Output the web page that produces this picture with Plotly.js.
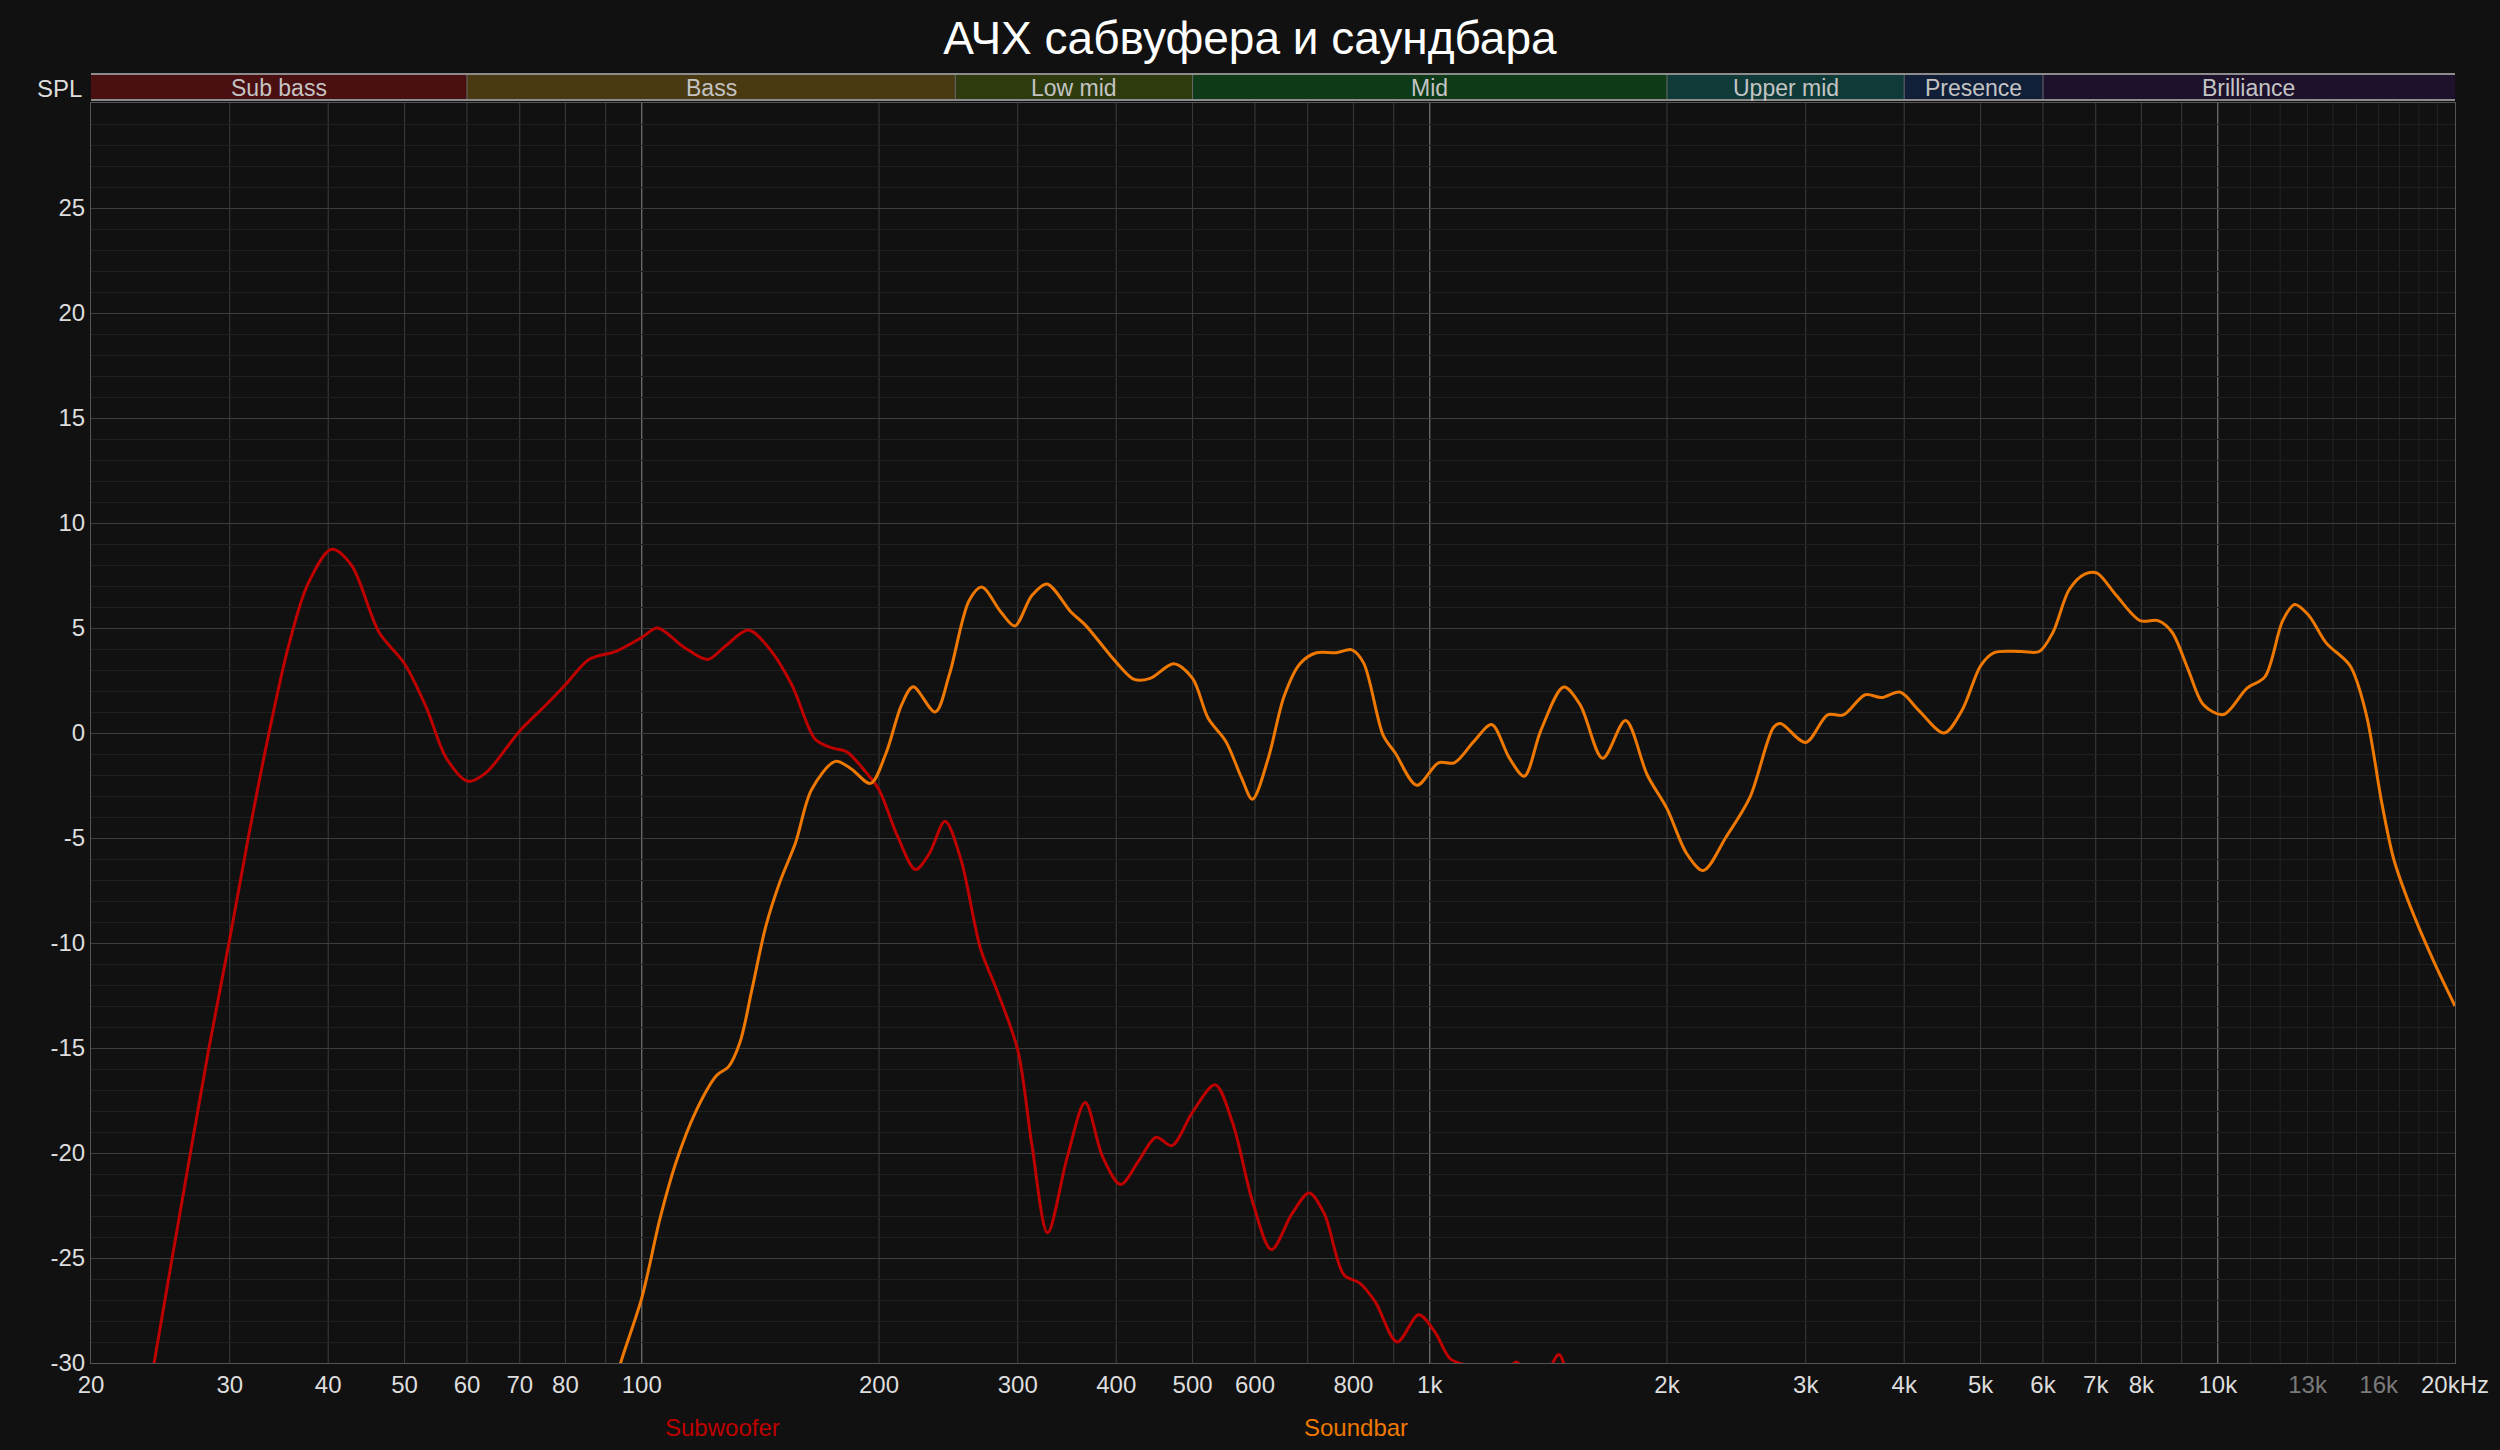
<!DOCTYPE html>
<html>
<head>
<meta charset="utf-8">
<script src="https://cdn.plot.ly/plotly-3.0.1.min.js"></script>
<style>html,body{margin:0;padding:0;background:#111111;}#chart{width:2500px;height:1450px;}</style>
</head>
<body>
<div id="chart"></div>
<script>
// ---- data ----
const chartTitle = 'АЧХ сабвуфера и саундбара';
const seriesNames = ['Subwoofer', 'Soundbar'];

const subFreq = [23.4, 24.05, 26.6, 28.2, 30, 31.7, 33.6, 35.6, 37.7, 40.4, 42.8, 46.4, 50, 53.3, 56.5, 60.2, 63.4, 70, 75.4, 80, 85.7, 92.9, 100, 104.7, 113, 121.2, 127.3, 136.5, 144.6, 155, 166, 173.9, 182, 192.8, 200, 211.3, 222.5, 231.6, 242.6, 254, 269.2, 281.9, 300, 312.6, 327.3, 346.7, 365.3, 384.6, 405.2, 426.7, 449.4, 470.6, 500, 534, 562.4, 595.6, 629.5, 668.4, 703, 734.9, 778, 815, 853, 909, 968, 1014, 1062, 1112, 1170, 1230, 1288, 1345, 1400, 1458, 1500, 1560, 1620];
const subSpl = [-32.8, -30, -20.5, -15.1, -9.8, -4.9, -0.1, 4.1, 7.1, 8.75, 8.0, 4.8, 3.3, 1.2, -1.2, -2.3, -1.9, 0.1, 1.3, 2.3, 3.5, 3.9, 4.55, 5.0, 4.1, 3.5, 4.1, 4.9, 4.1, 2.3, -0.3, -0.7, -0.9, -1.9, -2.7, -4.95, -6.5, -5.75, -4.2, -6.0, -10.3, -12.2, -15.1, -19.6, -23.8, -20.2, -17.6, -20.2, -21.5, -20.4, -19.25, -19.65, -18.05, -16.75, -18.6, -22.3, -24.6, -22.9, -21.9, -22.9, -25.8, -26.2, -27.1, -29.0, -27.7, -28.5, -29.8, -30.1, -30.4, -30.6, -29.95, -30.7, -30.6, -29.6, -31.0, -36, -42];

const barFreq = [91, 94, 100, 105.5, 110.5, 117, 124.5, 128.8, 133.3, 138, 143.7, 149.7, 156.8, 164.2, 176.1, 184.3, 195.1, 204.2, 213.7, 221, 235.7, 245.7, 260.2, 270, 285.7, 297.4, 312.6, 326.6, 350.7, 365.3, 400.4, 421.7, 441.7, 473.3, 500, 523.3, 551.1, 577.1, 595.6, 623.8, 653.3, 684.3, 718, 760.5, 796.3, 824.1, 873.1, 903.7, 962.8, 1025.6, 1074, 1137.6, 1198, 1262, 1318, 1383.5, 1479, 1552, 1657, 1772, 1888, 2000, 2119, 2224, 2377, 2548, 2731, 2787, 3000, 3198, 3349, 3569, 3743, 3951, 4176, 4494, 4735, 5000, 5195, 5630, 5935, 6181, 6476, 6778, 7019, 7435, 7970, 8397, 8745, 9160, 9592, 10163, 10894, 11476, 12089, 12518, 13039, 13734, 14720, 15420, 16150, 16720, 17510, 18770, 20000];
const barSpl = [-32, -30, -26.9, -23.1, -20.45, -18.05, -16.3, -15.9, -14.7, -12.2, -9.2, -7.1, -5.2, -2.7, -1.35, -1.7, -2.4, -0.95, 1.35, 2.2, 1.0, 2.8, 6.3, 6.95, 5.75, 5.1, 6.55, 7.1, 5.75, 5.15, 3.35, 2.55, 2.6, 3.3, 2.6, 0.7, -0.4, -2.15, -3.15, -1.2, 1.75, 3.3, 3.82, 3.82, 3.96, 3.34, -0.13, -0.94, -2.49, -1.42, -1.42, -0.4, 0.4, -1.2, -2.06, 0.13, 2.19, 1.34, -1.2, 0.59, -2.0, -3.6, -5.75, -6.55, -4.95, -3.07, 0.27, 0.45, -0.45, 0.86, 0.86, 1.82, 1.69, 1.95, 1.07, 0.0, 1.07, 3.2, 3.82, 3.88, 3.88, 4.81, 6.82, 7.57, 7.62, 6.55, 5.35, 5.35, 4.81, 3.07, 1.34, 0.88, 2.14, 2.67, 5.35, 6.12, 5.61, 4.28, 3.2, 0.94, -3.34, -6.0, -8.16, -10.83, -13.0];

const bandNames = ['Sub bass', 'Bass', 'Low mid', 'Mid', 'Upper mid', 'Presence', 'Brilliance'];
const bandStart = [20, 60, 250, 500, 2000, 4000, 6000];
const bandEnd = [60, 250, 500, 2000, 4000, 6000, 20000];

const xTickVals = [20, 30, 40, 50, 60, 70, 80, 100, 200, 300, 400, 500, 600, 800, 1000, 2000, 3000, 4000, 5000, 6000, 7000, 8000, 10000, 13000, 16000, 20000];
const xTickText = ['20', '30', '40', '50', '60', '70', '80', '100', '200', '300', '400', '500', '600', '800', '1k', '2k', '3k', '4k', '5k', '6k', '7k', '8k', '10k', '13k', '16k', '20kHz'];
const xTickDim = ['13k', '16k'];
const yTickVals = [-30, -25, -20, -15, -10, -5, 0, 5, 10, 15, 20, 25];
const yAxisLabel = 'SPL';

// grid line positions (not data)
const gridMain = [30, 40, 50, 60, 70, 80, 90, 200, 300, 400, 500, 600, 700, 800, 900, 2000, 3000, 4000, 5000, 6000, 7000, 8000, 9000];
const gridBright = [100, 1000, 10000];
const gridFaint = [11000, 12000, 13000, 14000, 15000, 16000, 17000, 18000, 19000];

// ---- styles ----
const seriesColors = ['#be0000', '#ee7800'];
const bandColors = ['#4a0f10', '#4a3a11', '#2e3b0f', '#0e3a17', '#0f3a37', '#111f38', '#1d112b'];
const FONT = '"Liberation Sans", Arial, Helvetica, sans-serif';

const H = 1450, W = 2500;
const mT = 103, mB = 87, mL = 91, mR = 45;
const plotH = H - mT - mB;
const pyToPaper = p => (H - mB - p) / plotH;
const bandTop = pyToPaper(74), bandBot = pyToPaper(100), bandMid = pyToPaper(88);

const traces = [
  {x: subFreq, y: subSpl, name: seriesNames[0], type: 'scatter', mode: 'lines',
   line: {color: seriesColors[0], width: 3, shape: 'spline', smoothing: 0.9}, hoverinfo: 'skip'},
  {x: barFreq, y: barSpl, name: seriesNames[1], type: 'scatter', mode: 'lines',
   line: {color: seriesColors[1], width: 3, shape: 'spline', smoothing: 0.9}, hoverinfo: 'skip'}
];

const shapes = [];
gridFaint.forEach(f => shapes.push({type: 'line', xref: 'x', yref: 'paper', x0: f, x1: f, y0: 0, y1: 1, line: {color: '#242424', width: 1}, layer: 'below'}));
gridMain.forEach(f => shapes.push({type: 'line', xref: 'x', yref: 'paper', x0: f, x1: f, y0: 0, y1: 1, line: {color: '#3d3d3d', width: 1}, layer: 'below'}));
gridBright.forEach(f => shapes.push({type: 'line', xref: 'x', yref: 'paper', x0: f, x1: f, y0: 0, y1: 1, line: {color: '#8a8a8a', width: 1}, layer: 'below'}));
bandNames.forEach((n, i) => {
  shapes.push({type: 'rect', xref: 'x', yref: 'paper', x0: bandStart[i], x1: bandEnd[i], y0: bandBot, y1: bandTop,
    fillcolor: bandColors[i], line: {width: 0}, layer: 'above'});
  if (i > 0) shapes.push({type: 'line', xref: 'x', yref: 'paper', x0: bandStart[i], x1: bandStart[i], y0: bandBot, y1: bandTop,
    line: {color: '#6a6a6a', width: 1}, layer: 'above'});
});
shapes.push({type: 'line', xref: 'x', yref: 'paper', x0: bandStart[0], x1: bandEnd[bandEnd.length - 1], y0: bandTop, y1: bandTop, line: {color: '#8c8c8c', width: 2}, layer: 'above'});
shapes.push({type: 'line', xref: 'x', yref: 'paper', x0: bandStart[0], x1: bandEnd[bandEnd.length - 1], y0: bandBot, y1: bandBot, line: {color: '#8c8c8c', width: 2}, layer: 'above'});

const annotations = bandNames.map((n, i) => ({
  text: n, xref: 'x', yref: 'paper', x: (Math.log10(bandStart[i]) + Math.log10(bandEnd[i])) / 2, y: bandMid,
  xanchor: 'center', yanchor: 'middle', showarrow: false, font: {family: FONT, size: 23, color: '#c4c4c4'}
}));
annotations.push({text: yAxisLabel, xref: 'paper', yref: 'paper', x: 0, y: bandMid, xanchor: 'right', yanchor: 'middle', xshift: -7,
  showarrow: false, font: {family: FONT, size: 24, color: '#dddddd'}});
const legendX = [0.2673, 0.5351];
seriesNames.forEach((n, i) => annotations.push({text: n, xref: 'paper', yref: 'paper', x: legendX[i], y: pyToPaper(1427),
  xanchor: 'center', yanchor: 'middle', showarrow: false, font: {family: FONT, size: 24, color: seriesColors[i]}}));

const tickTextStyled = xTickText.map(t => xTickDim.includes(t) ? '<span style="fill:#7a7a7a">' + t + '</span>' : t);

const layout = {
  width: W, height: H,
  paper_bgcolor: '#111111', plot_bgcolor: '#111111',
  margin: {l: mL, r: mR, t: mT, b: mB},
  font: {family: FONT, color: '#dddddd', size: 24},
  title: {text: chartTitle, font: {family: FONT, size: 46, color: '#ffffff'}, x: 0.5, xanchor: 'center', xref: 'container',
    y: 1 - 38 / H, yref: 'container', yanchor: 'middle'},
  showlegend: false,
  xaxis: {type: 'log', range: [Math.log10(20), Math.log10(20000)], tickmode: 'array', tickvals: xTickVals, ticktext: tickTextStyled,
    showgrid: false, zeroline: false, ticks: '', showline: true, mirror: true, linecolor: '#555555', linewidth: 1,
    tickfont: {family: FONT, size: 24, color: '#dddddd'}, fixedrange: true},
  yaxis: {range: [-30, 30], tickmode: 'array', tickvals: yTickVals, ticktext: yTickVals.map(String),
    showgrid: true, gridcolor: '#3d3d3d', gridwidth: 1, zeroline: false, ticks: '', showline: true, mirror: true,
    linecolor: '#555555', linewidth: 1, tickfont: {family: FONT, size: 24, color: '#dddddd'},
    minor: {tickmode: 'linear', tick0: 0, dtick: 1, showgrid: true, gridcolor: '#202020', gridwidth: 1, ticks: ''}, fixedrange: true},
  shapes: shapes,
  annotations: annotations
};

Plotly.newPlot('chart', traces, layout, {staticPlot: true, displayModeBar: false});
</script>
</body>
</html>
